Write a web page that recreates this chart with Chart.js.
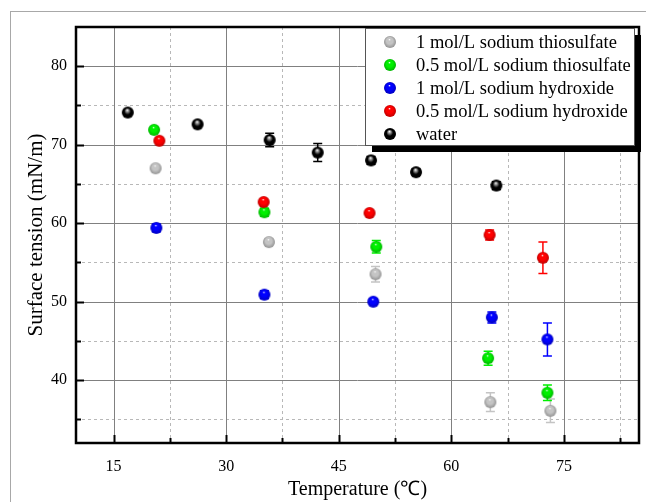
<!DOCTYPE html>
<html>
<head>
<meta charset="utf-8">
<script src="https://cdn.jsdelivr.net/npm/chart.js@4.4.0/dist/chart.umd.min.js"></script>
<style>
    html, body { margin: 0; padding: 0; background: #fff; }
    #wrap { position: relative; width: 646px; height: 502px; }
</style>
</head>
<body>
<div id="wrap"><canvas id="chart" width="646" height="502"></canvas></div>
<script>
// Series: temperature (°C), surface tension (mN/m), error (±)
const seriesNames = [
    '1 mol/L sodium thiosulfate',
    '0.5 mol/L sodium thiosulfate',
    '1 mol/L sodium hydroxide',
    '0.5 mol/L sodium hydroxide',
    'water'
];
const seriesColors = ['#c4c4c4', '#00f000', '#0000ff', '#ff0000', '#000000'];

const thio1Temp = [20.6, 35.7, 49.9, 65.2, 73.2];
const thio1Tension = [67.0, 57.6, 53.5, 37.2, 36.1];
const thio1Err = [0.3, 0.4, 1.0, 1.2, 1.5];

const thio05Temp = [20.4, 35.1, 50.0, 64.9, 72.8];
const thio05Tension = [71.9, 61.4, 57.0, 42.8, 38.4];
const thio05Err = [0.2, 0.5, 0.8, 0.9, 1.0];

const naoh1Temp = [20.7, 35.1, 49.6, 65.4, 72.8];
const naoh1Tension = [59.4, 50.9, 50.0, 48.0, 45.2];
const naoh1Err = [0.5, 0.5, 0.3, 0.7, 2.1];

const naoh05Temp = [21.1, 35.0, 49.1, 65.1, 72.2];
const naoh05Tension = [70.5, 62.7, 61.3, 58.5, 55.6];
const naoh05Err = [0.2, 0.2, 0.2, 0.65, 2.0];

const waterTemp = [16.9, 26.2, 35.8, 42.2, 49.3, 55.3, 66.0];
const waterTension = [74.1, 72.6, 70.6, 69.0, 68.0, 66.5, 64.8];
const waterErr = [0.2, 0.2, 0.85, 1.15, 0.5, 0.4, 0.5];

const xTicks = [15, 30, 45, 60, 75];
const xMinorTicks = [22.5, 37.5, 52.5, 67.5, 82.5];
const yTicks = [40, 50, 60, 70, 80];
const yMinorTicks = [35, 45, 55, 65, 75];

const allTemp = [thio1Temp, thio05Temp, naoh1Temp, naoh05Temp, waterTemp];
const allTension = [thio1Tension, thio05Tension, naoh1Tension, naoh05Tension, waterTension];
const allErr = [thio1Err, thio05Err, naoh1Err, naoh05Err, waterErr];

const serif = "'Liberation Serif', 'Times New Roman', serif";

// Glossy sphere marker drawn once per colour
const makeSphere = (color, r) => {
    const c = document.createElement('canvas');
    c.width = c.height = r * 2 + 2;
    const g = c.getContext('2d');
    const cx = r + 1, cy = r + 1;
    const grad = g.createRadialGradient(cx - r * 0.1, cy - r * 0.45, 0, cx, cy, r);
    grad.addColorStop(0, '#ffffff');
    grad.addColorStop(0.22, color === '#000000' ? '#9a9a9a' : color);
    grad.addColorStop(0.55, color);
    grad.addColorStop(1, color === '#000000' ? '#000000' : shade(color));
    g.fillStyle = grad;
    g.beginPath();
    g.arc(cx, cy, r, 0, Math.PI * 2);
    g.fill();
    return c;
};

function shade(hex) {
    const n = parseInt(hex.slice(1), 16);
    const r = Math.round(((n >> 16) & 255) * 0.75);
    const gg = Math.round(((n >> 8) & 255) * 0.75);
    const b = Math.round((n & 255) * 0.75);
    return `rgb(${r},${gg},${b})`;
}

const spheres = seriesColors.map(c => makeSphere(c, 6));

const datasets = seriesNames.map((name, i) => ({
    label: name,
    data: allTemp[i].map((t, j) => ({ x: t, y: allTension[i][j] })),
    pointStyle: spheres[i],
    pointRadius: 6,
    order: 5 - i
}));

// Page frame, grid, error bars, axes box, inward ticks and legend
const decor = {
    id: 'decor',
    beforeDraw(chart) {
        const ctx = chart.ctx;
        ctx.save();
        ctx.strokeStyle = '#a8a8a8';
        ctx.lineWidth = 1;
        ctx.strokeRect(10.5, 11.5, 700, 600);
        ctx.restore();
    },
    beforeDatasetsDraw(chart) {
        const { ctx, chartArea: a, scales: { x, y } } = chart;
        ctx.save();
        ctx.lineWidth = 1;
        // minor dashed grid
        ctx.strokeStyle = '#b8b8b8';
        ctx.setLineDash([3, 3]);
        xMinorTicks.forEach(v => {
            const px = Math.round(x.getPixelForValue(v)) + 0.5;
            ctx.beginPath(); ctx.moveTo(px, a.top); ctx.lineTo(px, a.bottom); ctx.stroke();
        });
        yMinorTicks.forEach(v => {
            const py = Math.round(y.getPixelForValue(v)) + 0.5;
            ctx.beginPath(); ctx.moveTo(a.left, py); ctx.lineTo(a.right, py); ctx.stroke();
        });
        // major solid grid
        ctx.setLineDash([]);
        ctx.strokeStyle = '#808080';
        xTicks.forEach(v => {
            const px = Math.round(x.getPixelForValue(v)) + 0.5;
            ctx.beginPath(); ctx.moveTo(px, a.top); ctx.lineTo(px, a.bottom); ctx.stroke();
        });
        yTicks.forEach(v => {
            const py = Math.round(y.getPixelForValue(v)) + 0.5;
            ctx.beginPath(); ctx.moveTo(a.left, py); ctx.lineTo(a.right, py); ctx.stroke();
        });
        // error bars
        ctx.lineWidth = 1.5;
        allTemp.forEach((temps, i) => {
            ctx.strokeStyle = seriesColors[i];
            temps.forEach((t, j) => {
                const px = x.getPixelForValue(t);
                const top = y.getPixelForValue(allTension[i][j] + allErr[i][j]);
                const bot = y.getPixelForValue(allTension[i][j] - allErr[i][j]);
                ctx.beginPath();
                ctx.moveTo(px, top); ctx.lineTo(px, bot);
                ctx.moveTo(px - 4.5, top); ctx.lineTo(px + 4.5, top);
                ctx.moveTo(px - 4.5, bot); ctx.lineTo(px + 4.5, bot);
                ctx.stroke();
            });
        });
        ctx.restore();
    },
    afterDatasetsDraw(chart) {
        const { ctx, chartArea: a, scales: { x, y } } = chart;
        ctx.save();
        ctx.strokeStyle = '#000';
        ctx.lineWidth = 2.5;
        ctx.strokeRect(a.left, a.top, a.right - a.left, a.bottom - a.top);
        ctx.lineWidth = 2;
        xTicks.forEach(v => {
            const px = Math.round(x.getPixelForValue(v)) + 0.5;
            ctx.beginPath(); ctx.moveTo(px, a.bottom); ctx.lineTo(px, a.bottom - 8); ctx.stroke();
        });
        xMinorTicks.forEach(v => {
            const px = Math.round(x.getPixelForValue(v)) + 0.5;
            ctx.beginPath(); ctx.moveTo(px, a.bottom); ctx.lineTo(px, a.bottom - 5); ctx.stroke();
        });
        yTicks.forEach(v => {
            const py = Math.round(y.getPixelForValue(v)) + 0.5;
            ctx.beginPath(); ctx.moveTo(a.left, py); ctx.lineTo(a.left + 8, py); ctx.stroke();
        });
        yMinorTicks.forEach(v => {
            const py = Math.round(y.getPixelForValue(v)) + 0.5;
            ctx.beginPath(); ctx.moveTo(a.left, py); ctx.lineTo(a.left + 5, py); ctx.stroke();
        });

        // legend box with drop shadow
        const lx = 365, ly = 28, lw = 269, lh = 117;
        ctx.fillStyle = '#000';
        ctx.fillRect(lx + 7, ly + 7, lw, lh);
        ctx.fillStyle = '#fff';
        ctx.fillRect(lx, ly, lw, lh);
        ctx.strokeStyle = '#555';
        ctx.lineWidth = 1;
        ctx.strokeRect(lx + 0.5, ly + 0.5, lw, lh);
        ctx.font = `18.5px ${serif}`;
        ctx.fillStyle = '#000';
        ctx.textBaseline = 'middle';
        seriesNames.forEach((name, i) => {
            const cy = ly + 14 + i * 23;
            const s = spheres[i];
            ctx.drawImage(s, lx + 25 - s.width / 2, cy - s.height / 2);
            ctx.fillText(name, lx + 51, cy + 1);
        });
        ctx.restore();
    }
};

new Chart(document.getElementById('chart').getContext('2d'), {
    type: 'scatter',
    data: { datasets },
    options: {
        responsive: false,
        animation: false,
        layout: { padding: { top: 27, right: 3, left: 0, bottom: 0 } },
        plugins: { legend: { display: false }, tooltip: { enabled: false } },
        scales: {
            x: {
                type: 'linear',
                min: 10,
                max: 85,
                afterBuildTicks: s => { s.ticks = xTicks.map(v => ({ value: v })); },
                afterFit: s => { s.height = 59; },
                grid: { display: false, drawTicks: false },
                border: { display: false },
                ticks: { color: '#000', font: { family: serif, size: 16 }, padding: 14, maxRotation: 0 },
                title: {
                    display: true,
                    text: 'Temperature (℃)',
                    color: '#000',
                    font: { family: serif, size: 20 },
                    padding: { top: 0, bottom: 0 }
                }
            },
            y: {
                min: 32,
                max: 85,
                afterBuildTicks: s => { s.ticks = yTicks.map(v => ({ value: v })); },
                afterFit: s => { s.width = 76; },
                grid: { display: false, drawTicks: false },
                border: { display: false },
                ticks: { color: '#000', font: { family: serif, size: 16 }, padding: 9 },
                title: {
                    display: true,
                    text: 'Surface tension (mN/m)',
                    color: '#000',
                    font: { family: serif, size: 21 },
                    padding: { top: 24, bottom: 0 }
                }
            }
        }
    },
    plugins: [decor]
});
</script>
</body>
</html>
